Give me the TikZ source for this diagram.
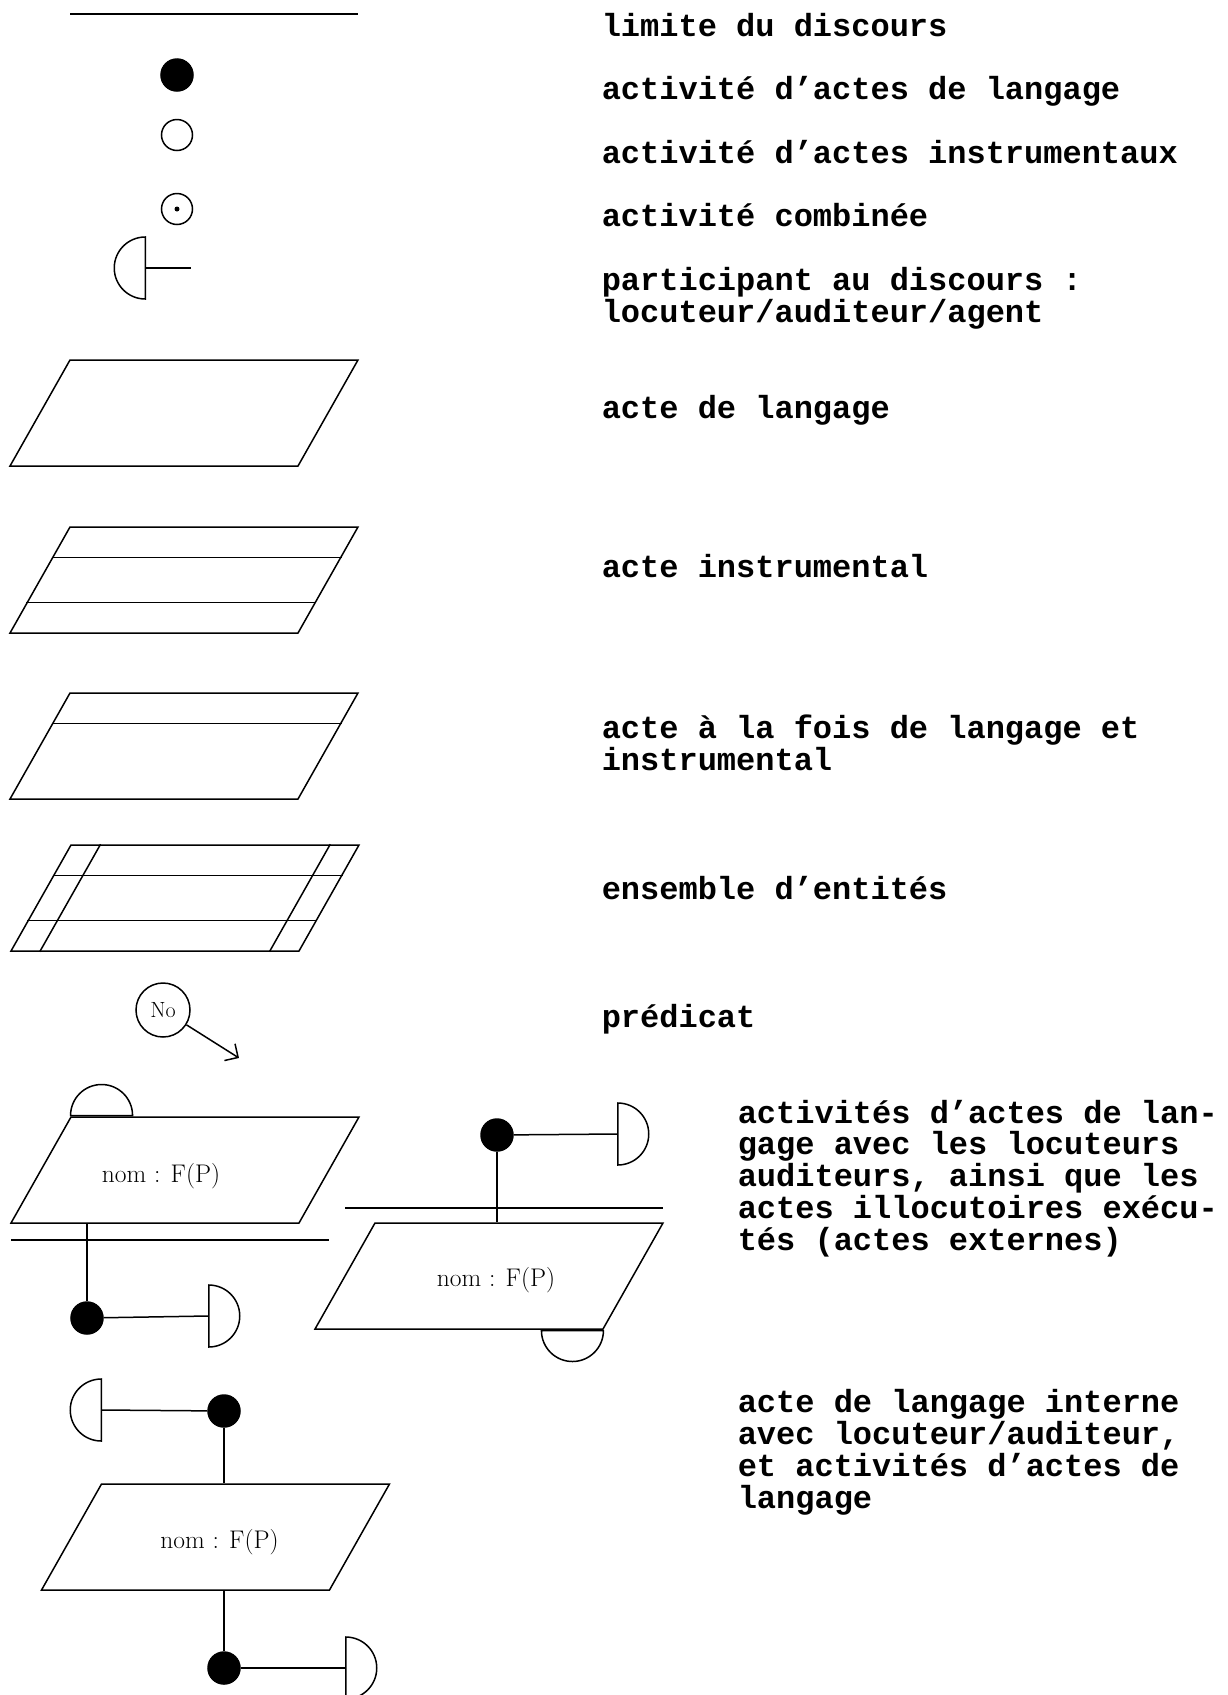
\documentclass[tikz,border=0pt]{standalone}
\usepackage{fontspec}
\newfontfamily\courier{Liberation Mono}
\usetikzlibrary{arrows.meta, positioning, shapes.geometric, calc}

\begin{document}
\begin{tikzpicture}[
x=1pt, y=-1pt,
line width=1.5pt,
legende/.style={anchor=base west,
align=left,
inner sep=0pt,
font=\courier\bfseries\fontsize{32pt}{31.7pt}\selectfont},
acte/.style={draw,
trapezium,
trapezium left angle=60.5,
trapezium right angle=119.5,
inner xsep=114pt,
inner ysep=53pt},
nom/.style={font=\fontsize{25.5pt}{27pt}\selectfont},
activite/.style={circle, draw, fill=black, minimum size=32pt, inner sep=0pt},
instru/.style={circle, draw, minimum size=31pt, inner sep=0pt},
locuteur/.style={semicircle, draw, minimum width=62pt, minimum height=31pt,
inner sep=0pt, anchor=chord center},
arrow/.style={-{Straight Barb[angle=90:14pt]}}
]
\useasboundingbox (0,0) rectangle (1228,1695);

% symboles simples
\draw (70,14) -- (358,14);
\node[activite] (lang) at (177,75) {};
\node[instru] (instr) at (177,135) {};
\node[instru] (comb) at (177,209) {};
\fill (comb) circle[radius=2.5];
\node[locuteur, shape border rotate=90] (part) at (146,268) {};
\coordinate (partend) at (191,268);
\draw (part.chord center) -- (partend);

% actes
\node[acte] (langage) at (184,413) {};
\node[acte] (instrum) at (184,580) {};
\draw ($(instrum.top left corner)!.29!(instrum.bottom left corner)$) -- ($(instrum.top right corner)!.29!(instrum.bottom right corner)$);
\draw ($(instrum.top left corner)!.71!(instrum.bottom left corner)$) -- ($(instrum.top right corner)!.71!(instrum.bottom right corner)$);
\node[acte] (mixte) at (184,746) {};
\draw ($(mixte.top left corner)!.29!(mixte.bottom left corner)$) -- ($(mixte.top right corner)!.29!(mixte.bottom right corner)$);
\node[acte] (ensemble) at (185,898) {};
\draw ($(ensemble.top left corner)!.29!(ensemble.bottom left corner)$) -- ($(ensemble.top right corner)!.29!(ensemble.bottom right corner)$);
\draw ($(ensemble.top left corner)!.71!(ensemble.bottom left corner)$) -- ($(ensemble.top right corner)!.71!(ensemble.bottom right corner)$);
\draw ($(ensemble.top left corner)+(30,0)$) -- ($(ensemble.bottom left corner)+(30,0)$);
\draw ($(ensemble.top right corner)+(-30,0)$) -- ($(ensemble.bottom right corner)+(-30,0)$);

% predicat
\node[circle, draw, minimum size=54pt, inner sep=0pt, font=\fontsize{22pt}{23pt}\selectfont] (pred) at (163,1010) {No};
\coordinate (predtip) at (239,1058);
\draw[arrow] (pred) -- (predtip);

% acte externe, locuteur en haut
\node[acte] (acteA) at (185,1170) {};
\node[nom] (nomA) at ($(acteA)+(-24,6)$) {nom : F(P)};
\node[locuteur] (locA) at ($(acteA.top left corner)+(31,0)$) {};
\draw (11,1240) -- (329,1240);
\node[activite] (actiA) at (87,1318) {};
\draw (actiA) -- (actiA |- acteA.bottom side);
\node[locuteur, shape border rotate=270] (audA) at (208,1316) {};
\draw (actiA) -- (audA.chord center);

% acte externe, locuteur en bas
\node[activite] (actiB) at (497,1135) {};
\node[locuteur, shape border rotate=270] (locB) at (617,1134) {};
\draw (actiB) -- (locB.chord center);
\draw (345,1208) -- (663,1208);
\node[acte] (acteB) at (489,1276) {};
\node[nom] (nomB) at ($(acteB)+(7,4)$) {nom : F(P)};
\draw (actiB) -- (actiB |- acteB.top side);
\node[locuteur, shape border rotate=180] (audB) at ($(acteB.bottom right corner)+(-31,0)$) {};

% acte interne
\node[locuteur, shape border rotate=90] (locC) at (102,1410) {};
\node[activite] (actiC) at (224,1411) {};
\draw (locC.chord center) -- (actiC);
\node[acte] (acteC) at (215.5,1537) {};
\node[nom] (nomC) at ($(acteC)+(4,5)$) {nom : F(P)};
\draw (actiC) -- (actiC |- acteC.top side);
\node[activite] (actiD) at (224,1668) {};
\draw (actiD) -- (actiD |- acteC.bottom side);
\node[locuteur, shape border rotate=270] (audC) at (345,1668) {};
\draw (actiD) -- (audC.chord center);

% legendes (base = ligne du bas)
\node[legende] (tLimite) at (601,36) {limite du discours};
\node[legende] (tLang) at (601,99) {activité d’actes de langage};
\node[legende] (tInstr) at (601,163) {activité d’actes instrumentaux};
\node[legende] (tComb) at (601,226) {activité combinée};
\node[legende] (tPart) at (601,322) {participant au discours :\\locuteur/auditeur/agent};
\node[legende] (tLangage) at (601,418) {acte de langage};
\node[legende] (tInstrum) at (601,577) {acte instrumental};
\node[legende] (tMixte) at (601,770) {acte à la fois de langage et\\instrumental};
\node[legende] (tEns) at (601,899) {ensemble d’entités};
\node[legende] (tPred) at (601,1027) {prédicat};
\node[legende] (tExt) at (737,1250) {activités d’actes de lan-\\gage avec les locuteurs\\auditeurs, ainsi que les\\actes illocutoires exécu-\\tés (actes externes)};
\node[legende] (tInt) at (737,1508) {acte de langage interne\\avec locuteur/auditeur,\\et activités d’actes de\\langage};

\end{tikzpicture}
\end{document}
